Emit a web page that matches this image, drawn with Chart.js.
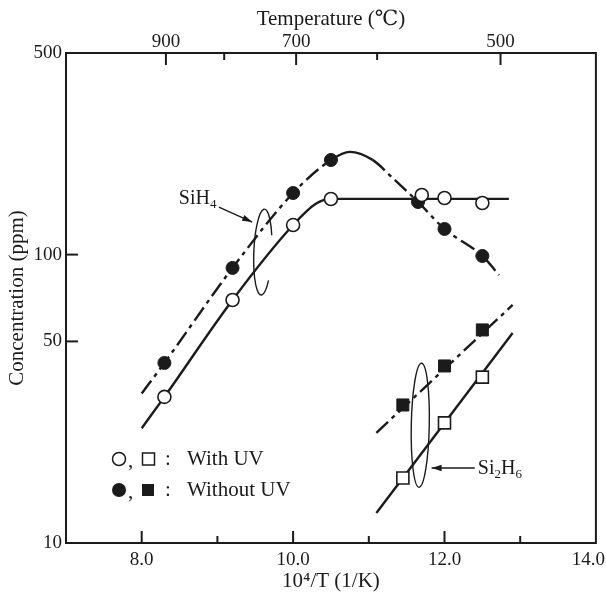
<!DOCTYPE html>
<html>
<head>
<meta charset="utf-8">
<script src="https://cdn.jsdelivr.net/npm/chart.js@4"></script>
<style>
  body { margin: 0; background: #fff; }
  #wrap { width: 606px; height: 596px; }
</style>
</head>
<body>
<div id="wrap"><canvas id="concChart" width="606" height="596"></canvas></div>
<script>
// measured points (10^4/T, ppm)
const sih4UvX = [8.3, 9.2, 10.0, 10.5, 11.7, 12.0, 12.5];
const sih4UvY = [32.1, 69.6, 126.6, 155.9, 160.9, 157.1, 151.0];
const sih4NoUvX = [8.3, 9.2, 10.0, 10.5, 11.65, 12.0, 12.5];
const sih4NoUvY = [42.1, 89.9, 163.5, 212.8, 152.2, 122.7, 98.9];
const si2h6X = [11.45, 12.0, 12.5];
const si2h6UvY = [16.8, 26.1, 37.6];
const si2h6NoUvY = [30.1, 41.1, 54.8];

// hand-drawn fit curves
const sih4UvCurveX = [8.0, 8.3, 9.2, 10.0, 10.3, 10.5, 12.85];
const sih4UvCurveY = [25, 32.1, 69.6, 126.6, 150, 156, 156];
const sih4NoUvCurveX = [8.0, 8.3, 9.2, 10.0, 10.5, 10.75, 11.05, 11.3, 11.65, 12.0, 12.5, 12.72];
const sih4NoUvCurveY = [33, 42.1, 89.9, 163.5, 212.8, 227, 213, 186, 152.2, 122.7, 98.9, 85];
const si2h6LineX = [11.1, 12.9];
const si2h6UvLineY = [12.7, 53.5];
const si2h6NoUvLineY = [24.1, 66.9];

// axes
const yTicks = [10, 50, 100, 500];
const yTickMarks = [50, 100];
const xMajor = [8, 10, 12];
const xMinor = [9, 11, 13];
const xLabels = { 8: "8.0", 10: "10.0", 12: "12.0" };
const topTickPos = [8.32, 9.09, 10.04, 11.11, 12.74];
const topTickLabels = ["900", "", "700", "", "500"];

const ink = "#1b1b1b";
const serif = "'Liberation Serif', 'DejaVu Serif', serif";
const dashDot = [16, 5, 4, 5];

Chart.defaults.font.family = serif;
Chart.defaults.color = ink;

function pts(xs, ys) {
  return xs.map((x, i) => ({ x: x, y: ys[i] }));
}

function arrow(ctx, x1, y1, x2, y2) {
  ctx.beginPath();
  ctx.moveTo(x1, y1);
  ctx.lineTo(x2, y2);
  ctx.stroke();
  const ang = Math.atan2(y2 - y1, x2 - x1);
  const len = 10, w = 3.2;
  ctx.beginPath();
  ctx.moveTo(x2, y2);
  ctx.lineTo(x2 - len * Math.cos(ang) + w * Math.sin(ang), y2 - len * Math.sin(ang) - w * Math.cos(ang));
  ctx.lineTo(x2 - len * Math.cos(ang) - w * Math.sin(ang), y2 - len * Math.sin(ang) + w * Math.cos(ang));
  ctx.closePath();
  ctx.fill();
}

// text with subscripts: parts = [[text, isSub], ...]
function chem(ctx, parts, x, y, size) {
  let cx = x;
  ctx.textAlign = "left";
  ctx.textBaseline = "alphabetic";
  parts.forEach(([t, sub]) => {
    ctx.font = (sub ? size * 0.65 : size) + "px " + serif;
    ctx.fillText(t, cx, sub ? y + 4 : y);
    cx += ctx.measureText(t).width;
  });
}

const decor = {
  id: "decor",
  beforeDraw(chart) {
    const ctx = chart.ctx;
    ctx.save();
    ctx.fillStyle = "#fff";
    ctx.fillRect(0, 0, chart.width, chart.height);
    ctx.restore();
  },
  afterDraw(chart) {
    const { ctx, chartArea: a, scales } = chart;
    const x = scales.x, x2 = scales.x2, y = scales.y;
    ctx.save();
    ctx.strokeStyle = ink;
    ctx.fillStyle = ink;
    ctx.lineWidth = 2;
    ctx.strokeRect(a.left, a.top, a.right - a.left, a.bottom - a.top);

    const seg = (x1, y1, xe, ye) => {
      ctx.beginPath();
      ctx.moveTo(x1, y1);
      ctx.lineTo(xe, ye);
      ctx.stroke();
    };
    xMajor.forEach(v => { const p = x.getPixelForValue(v); seg(p, a.bottom, p, a.bottom - 12); });
    xMinor.forEach(v => { const p = x.getPixelForValue(v); seg(p, a.bottom, p, a.bottom - 7); });
    topTickPos.forEach((v, i) => {
      const p = x2.getPixelForValue(v);
      seg(p, a.top, p, a.top + (topTickLabels[i] ? 12 : 7));
    });
    yTickMarks.forEach(v => { const p = y.getPixelForValue(v); seg(a.left, p, a.left + 12, p); });

    // last bottom label sits against the right edge
    ctx.font = "19px " + serif;
    ctx.textAlign = "right";
    ctx.textBaseline = "middle";
    ctx.fillText("14.0", chart.width - 1, a.bottom + 17);

    // SiH4 loop and pointer
    ctx.lineWidth = 1.4;
    const lx = x.getPixelForValue(9.6), ly = y.getPixelForValue(102);
    ctx.beginPath();
    ctx.ellipse(lx, ly, 9, 43, 0.04, 0.71, Math.PI * 2 - 0.41);
    ctx.stroke();
    arrow(ctx, x.getPixelForValue(9.02), y.getPixelForValue(146), x.getPixelForValue(9.46), y.getPixelForValue(129.7));
    chem(ctx, [["SiH", 0], ["4", 1]], x.getPixelForValue(8.49), y.getPixelForValue(150), 20);

    // Si2H6 loop and pointer
    const sx = x.getPixelForValue(11.68), sy = y.getPixelForValue(25.6);
    ctx.beginPath();
    ctx.ellipse(sx, sy, 9, 62, 0.02, 0, Math.PI * 2);
    ctx.stroke();
    arrow(ctx, x.getPixelForValue(12.40), y.getPixelForValue(18.2), x.getPixelForValue(11.83), y.getPixelForValue(18.2));
    chem(ctx, [["Si", 0], ["2", 1], ["H", 0], ["6", 1]], x.getPixelForValue(12.44), y.getPixelForValue(18.2) + 6, 20);

    // legend
    const gx = a.left + 53, r1 = a.bottom - 84, r2 = a.bottom - 53;
    ctx.lineWidth = 1.5;
    ctx.fillStyle = "#fff";
    ctx.beginPath(); ctx.arc(gx, r1, 6.5, 0, Math.PI * 2); ctx.fill(); ctx.stroke();
    ctx.fillRect(gx + 23.5, r1 - 6, 12, 12); ctx.strokeRect(gx + 23.5, r1 - 6, 12, 12);
    ctx.fillStyle = ink;
    ctx.beginPath(); ctx.arc(gx, r2, 7, 0, Math.PI * 2); ctx.fill();
    ctx.fillRect(gx + 23, r2 - 6, 12, 12);
    ctx.font = "21px " + serif;
    ctx.textAlign = "left";
    ctx.textBaseline = "middle";
    [r1, r2].forEach(r => {
      ctx.fillText(",", gx + 9, r + 2);
      ctx.fillText(":", gx + 46, r);
    });
    ctx.fillText("With UV", gx + 68, r1);
    ctx.fillText("Without UV", gx + 68, r2);
    ctx.restore();
  }
};

const markerBase = { showLine: false, pointBorderColor: ink, pointHoverRadius: 0 };
const curveBase = { pointRadius: 0, borderColor: ink, borderWidth: 2.4, cubicInterpolationMode: "monotone", order: 10 };

new Chart(document.getElementById("concChart"), {
  type: "line",
  data: {
    datasets: [
      Object.assign({}, curveBase, { label: "SiH4 with UV fit", data: pts(sih4UvCurveX, sih4UvCurveY) }),
      Object.assign({}, curveBase, {
        label: "SiH4 without UV fit",
        data: pts(sih4NoUvCurveX, sih4NoUvCurveY),
        borderDash: dashDot,
        segment: {
          borderDash: c => (c.p0.parsed.x >= 10.5 && c.p1.parsed.x <= 11.05 ? [] : dashDot)
        }
      }),
      Object.assign({}, curveBase, { label: "Si2H6 with UV fit", data: pts(si2h6LineX, si2h6UvLineY) }),
      Object.assign({}, curveBase, { label: "Si2H6 without UV fit", data: pts(si2h6LineX, si2h6NoUvLineY), borderDash: dashDot }),
      Object.assign({}, markerBase, {
        label: "SiH4 without UV", data: pts(sih4NoUvX, sih4NoUvY), order: 5,
        pointStyle: "circle", pointRadius: 6.5, pointBackgroundColor: ink, pointBorderWidth: 1
      }),
      Object.assign({}, markerBase, {
        label: "Si2H6 without UV", data: pts(si2h6X, si2h6NoUvY), order: 5,
        pointStyle: "rect", pointRadius: 8.5, pointBackgroundColor: ink, pointBorderWidth: 1
      }),
      Object.assign({}, markerBase, {
        label: "SiH4 with UV", data: pts(sih4UvX, sih4UvY), order: 1,
        pointStyle: "circle", pointRadius: 6.5, pointBackgroundColor: "#fff", pointBorderWidth: 1.6
      }),
      Object.assign({}, markerBase, {
        label: "Si2H6 with UV", data: pts(si2h6X, si2h6UvY), order: 1,
        pointStyle: "rect", pointRadius: 8.5, pointBackgroundColor: "#fff", pointBorderWidth: 1.6
      })
    ]
  },
  options: {
    responsive: false,
    animation: false,
    layout: { padding: { left: 0, right: 9, top: 0, bottom: 0 } },
    plugins: { legend: { display: false }, tooltip: { enabled: false } },
    scales: {
      x: {
        type: "linear",
        position: "bottom",
        min: 7,
        max: 14,
        grid: { display: false, drawTicks: false },
        border: { display: false },
        afterBuildTicks: s => { s.ticks = xMajor.map(v => ({ value: v })); },
        afterFit: s => { s.height = 53; s.paddingLeft = 0; s.paddingRight = 0; },
        ticks: { padding: 6, font: { size: 19 }, maxRotation: 0, autoSkip: false, callback: v => xLabels[v] || "" },
        title: { display: true, text: "10⁴/T (1/K)", font: { size: 21 }, padding: { bottom: 2 } }
      },
      x2: {
        type: "linear",
        position: "top",
        min: 7,
        max: 14,
        grid: { display: false, drawTicks: false },
        border: { display: false },
        afterBuildTicks: s => { s.ticks = topTickPos.map(v => ({ value: v })); },
        afterFit: s => { s.height = 53; s.paddingLeft = 0; s.paddingRight = 0; },
        ticks: { padding: 0, font: { size: 19 }, maxRotation: 0, autoSkip: false, callback: (v, i) => topTickLabels[i] },
        title: { display: true, text: "Temperature (℃)", font: { size: 21 }, padding: { top: 7 } }
      },
      y: {
        type: "logarithmic",
        position: "left",
        min: 10,
        max: 500,
        grid: { display: false, drawTicks: false },
        border: { display: false },
        afterBuildTicks: s => { s.ticks = yTicks.map(v => ({ value: v })); },
        afterFit: s => { s.width = 66; s.paddingTop = 0; s.paddingBottom = 0; },
        ticks: { padding: 4, font: { size: 19 }, autoSkip: false, callback: v => String(v) },
        title: { display: true, text: "Concentration (ppm)", font: { size: 21 }, padding: { top: 5 } }
      }
    }
  },
  plugins: [decor]
});
</script>
</body>
</html>
